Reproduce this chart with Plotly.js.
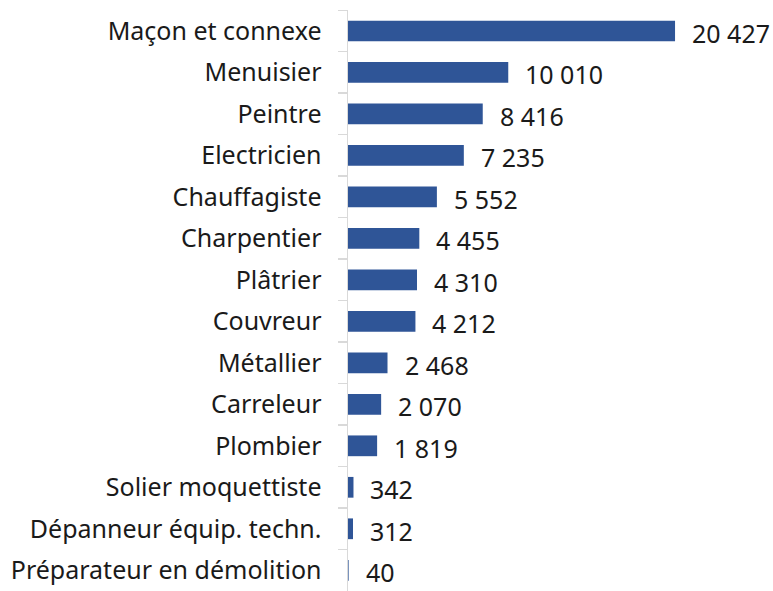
<!DOCTYPE html>
<html><head><meta charset="utf-8">
<script src="https://cdn.plot.ly/plotly-3.0.1.min.js"></script>
<style>html,body{margin:0;padding:0;background:#fff;overflow:hidden}#chart{width:773px;height:591px}</style>
</head><body><div id="chart"></div>
<script>
const categories = ["Maçon et connexe","Menuisier","Peintre","Electricien","Chauffagiste","Charpentier","Plâtrier","Couvreur","Métallier","Carreleur","Plombier","Solier moquettiste","Dépanneur équip. techn.","Préparateur en démolition"];
const values = [20427,10010,8416,7235,5552,4455,4310,4212,2468,2070,1819,342,312,40];
const fmt = v => String(v).replace(/\B(?=(\d{3})+(?!\d))/g, " ");
const labels = values.map(fmt);

const trace = {
  type: "bar", orientation: "h",
  x: values, y: categories,
  marker: {color: "#2F5597", line: {width: 0}},
  width: 0.5,
  hoverinfo: "none"
};
const annotations = values.map((v, i) => ({
  x: v, y: categories[i], xref: "x", yref: "y",
  text: labels[i], showarrow: false, xanchor: "left", yanchor: "middle",
  xshift: 15, yshift: -2,
  font: {family: "Noto Sans, Open Sans, sans-serif", size: 25, color: "#1a1a1a"}
}));
const layout = {
  width: 773, height: 591,
  margin: {l: 348, r: 0, t: 10, b: 0},
  paper_bgcolor: "#fff", plot_bgcolor: "#fff",
  showlegend: false,
  xaxis: {range: [0, 26546], visible: false, showgrid: false, zeroline: false},
  yaxis: {
    type: "category", autorange: "reversed",
    showline: true, linecolor: "#d9d9d9", linewidth: 1.5,
    ticks: "outside", tickson: "boundaries", ticklen: 9, tickcolor: "#d9d9d9", tickwidth: 1.5,
    ticklabelstandoff: 20,
    tickfont: {family: "Noto Sans, Open Sans, sans-serif", size: 25, color: "#1a1a1a"},
    showgrid: false, zeroline: false
  },
  annotations: annotations
};
Plotly.newPlot("chart", [trace], layout, {displayModeBar: false, staticPlot: true});
</script></body></html>
